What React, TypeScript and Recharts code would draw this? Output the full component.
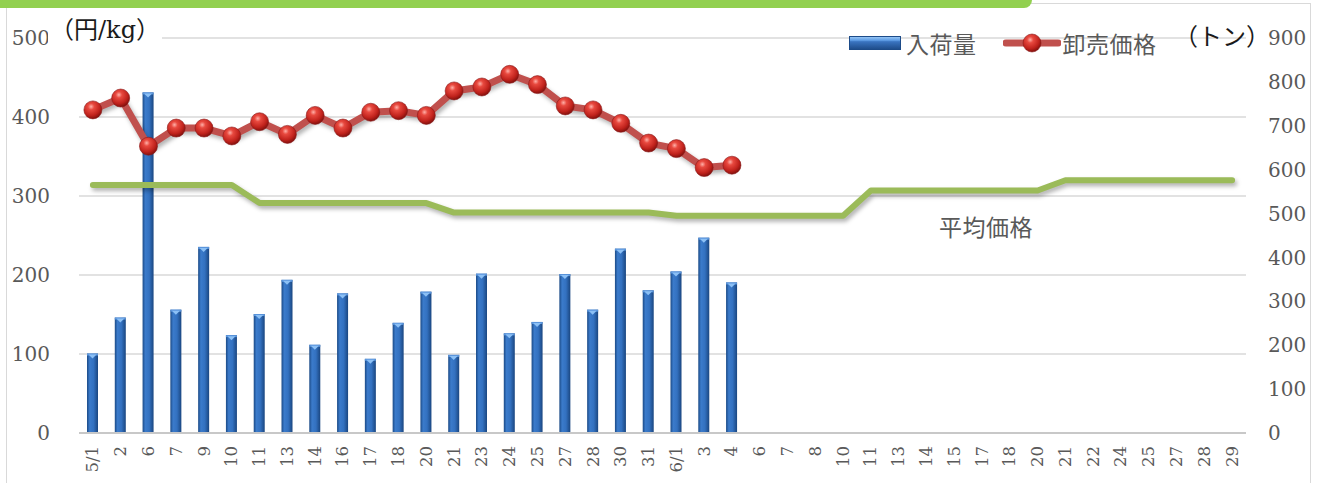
import React from "react";
import { ComposedChart, Bar, Line, XAxis, YAxis, CartesianGrid } from "recharts";

const categories = [
  "5/1", "2", "6", "7", "9", "10", "11", "13", "14", "16", "17", "18", "20", "21",
  "23", "24", "25", "27", "28", "30", "31", "6/1", "3", "4", "6", "7", "8", "10",
  "11", "13", "14", "15", "17", "18", "20", "21", "22", "24", "25", "27", "28", "29",
];
// 入荷量 (トン)
const arrivals = [
  181, 263, 776, 281, 424, 223, 271, 349, 201, 318, 169, 251, 322, 178, 363, 227,
  253, 362, 281, 420, 325, 368, 445, 343,
];
// 卸売価格 (円/kg)
const prices = [
  409, 424, 363, 386, 386, 376, 394, 378, 402, 386, 406, 408, 402, 433, 438, 454,
  441, 414, 409, 392, 367, 360, 336, 339,
];
// 平均価格 (円/kg)
const avgPrices = [
  314, 314, 314, 314, 314, 314,
  291, 291, 291, 291, 291, 291, 291,
  279, 279, 279, 279, 279, 279, 279, 279,
  275, 275, 275, 275, 275, 275, 275,
  307, 307, 307, 307, 307, 307, 307,
  320, 320, 320, 320, 320, 320, 320,
];
const leftTicks = [0, 100, 200, 300, 400, 500];
const rightTicks = [0, 100, 200, 300, 400, 500, 600, 700, 800, 900];

const data = categories.map((label, i) => ({
  label,
  arrivals: i < arrivals.length ? arrivals[i] : null,
  price: i < prices.length ? prices[i] : null,
  avg: avgPrices[i],
}));

const GREY = "#595959";
const SERIF = "'DejaVu Serif', 'Noto Sans CJK JP', serif";
const JP = "'Noto Sans CJK JP', sans-serif";

const XTick = (props: any) => {
  const { x, y, payload } = props;
  return (
    <text
      x={x}
      y={y}
      transform={`rotate(-90 ${x} ${y})`}
      textAnchor="end"
      dominantBaseline="central"
      fill={GREY}
      fontSize={16.5}
      fontFamily={SERIF}
    >
      {payload.value}
    </text>
  );
};

const BarShape = (props: any) => {
  const { x, y, width, height } = props;
  if (!height || height <= 0) return <g />;
  const cx = x + width / 2;
  return (
    <g>
      <rect x={x} y={y} width={width} height={height} fill="url(#barFill)" />
      <rect x={x} y={y} width={width} height={2} fill="#5a95dc" />
      <polygon points={`${x + 1.5},${y + 1} ${x + width - 1.5},${y + 1} ${cx},${y + 5}`} fill="#8cc0f5" />
    </g>
  );
};

const Ball = (props: any) => {
  const { cx, cy, index } = props;
  if (cx == null || cy == null || props.value == null) return <g key={`d${index}`} />;
  return <circle key={`d${index}`} cx={cx} cy={cy} r={9} fill="url(#ball)" stroke="#8a1a1a" strokeWidth={0.6} />;
};

export default function App() {
  return (
    <div style={{ position: "absolute", left: 0, top: 0, width: 1327, height: 483, background: "#fff", overflow: "hidden" }}>
      <style>{`
        .avg-line path.recharts-curve { filter: drop-shadow(2px 3px 2px rgba(0,0,0,0.3)); }
        .price-line path.recharts-curve { filter: drop-shadow(2px 3px 2px rgba(0,0,0,0.3)); }
      `}</style>
      {/* frame */}
      <div style={{ position: "absolute", left: 6, top: 3, width: 1305, height: 500, border: "1.5px solid #d9d9d9", boxSizing: "border-box" }} />
      <div style={{ position: "absolute", left: 0, top: 0, width: 1032, height: 8, background: "#92d050", borderBottomRightRadius: 8 }} />
      <ComposedChart
        width={1327}
        height={483}
        data={data}
        margin={{ top: 38, right: 0, bottom: 0, left: 0 }}
        style={{ position: "absolute", left: 0, top: 0 }}
      >
        <defs>
          <linearGradient id="barFill" x1="0" y1="0" x2="1" y2="0">
            <stop offset="0" stopColor="#1b4a86" />
            <stop offset="0.25" stopColor="#3b7bcb" />
            <stop offset="0.6" stopColor="#3371c0" />
            <stop offset="1" stopColor="#1a4680" />
          </linearGradient>
          <radialGradient id="ball" cx="0.4" cy="0.32" r="0.7">
            <stop offset="0" stopColor="#ffb0a8" />
            <stop offset="0.25" stopColor="#e8493f" />
            <stop offset="0.7" stopColor="#c0221c" />
            <stop offset="1" stopColor="#7e0f0c" />
          </radialGradient>
        </defs>
        <CartesianGrid yAxisId="left" vertical={false} stroke="#d9d9d9" strokeWidth={1.5} />
        <XAxis
          dataKey="label"
          interval={0}
          height={50}
          tickSize={0}
          tickMargin={13}
          tick={<XTick />}
          axisLine={{ stroke: "#c8c8c8", strokeWidth: 2 }}
          tickLine={false}
        />
        <YAxis
          yAxisId="left"
          orientation="left"
          width={79}
          domain={[0, 500]}
          ticks={leftTicks}
          axisLine={false}
          tickLine={false}
          tickSize={0}
          tickMargin={29}
          tick={{ fill: GREY, fontSize: 20, fontFamily: SERIF }}
        />
        <YAxis
          yAxisId="right"
          orientation="right"
          width={81}
          domain={[0, 900]}
          ticks={rightTicks}
          axisLine={false}
          tickLine={false}
          tickSize={0}
          tickMargin={22}
          tick={{ fill: GREY, fontSize: 20, fontFamily: SERIF, textAnchor: "start" }}
        />
        <Line
          className="avg-line"
          yAxisId="left"
          dataKey="avg"
          stroke="#9bbb59"
          strokeWidth={6}
          strokeLinecap="round"
          strokeLinejoin="round"
          dot={false}
          activeDot={false}
          isAnimationActive={false}
          type="linear"
        />
        <Bar yAxisId="right" dataKey="arrivals" barSize={11} shape={<BarShape />} isAnimationActive={false} />
        <Line
          className="price-line"
          yAxisId="left"
          dataKey="price"
          stroke="#c0504d"
          strokeWidth={7}
          strokeLinejoin="round"
          dot={Ball}
          activeDot={false}
          isAnimationActive={false}
          type="linear"
        />
      </ComposedChart>

      {/* axis titles */}
      <div style={{ position: "absolute", left: 48, top: 14, padding: "0 2px", background: "#fff", fontFamily: SERIF, fontSize: 24, color: "#1a1a1a", lineHeight: "32px", whiteSpace: "nowrap" }}>
        （円/kg）
      </div>
      <div style={{ position: "absolute", left: 1174, top: 19, fontFamily: JP, fontSize: 24, color: "#1a1a1a", lineHeight: "32px", whiteSpace: "nowrap" }}>
        （トン）
      </div>

      {/* legend */}
      <div style={{ position: "absolute", left: 849, top: 28, height: 30, display: "flex", alignItems: "center", fontFamily: JP, fontSize: 23, letterSpacing: 0.5, color: GREY, whiteSpace: "nowrap" }}>
        <svg width={52} height={14} style={{ marginRight: 5 }}>
          <defs>
            <linearGradient id="legBar" x1="0" y1="0" x2="0" y2="1">
              <stop offset="0" stopColor="#9ccaf7" />
              <stop offset="0.3" stopColor="#5d9be3" />
              <stop offset="0.4" stopColor="#3a74c0" />
              <stop offset="1" stopColor="#1d4b88" />
            </linearGradient>
          </defs>
          <rect x={0.5} y={0.5} width={51} height={13} fill="url(#legBar)" stroke="#1d4b88" strokeWidth={1} />
        </svg>
        <span>入荷量</span>
        <svg width={58} height={20} style={{ marginLeft: 26, marginRight: 2 }}>
          <line x1={3} y1={10} x2={55} y2={10} stroke="#c0504d" strokeWidth={7} strokeLinecap="round" />
          <circle cx={29} cy={10} r={9} fill="url(#ball)" stroke="#8a1a1a" strokeWidth={0.6} />
        </svg>
        <span>卸売価格</span>
      </div>

      <div style={{ position: "absolute", left: 939, top: 211, fontFamily: JP, fontSize: 23, letterSpacing: 0.5, color: GREY, lineHeight: "30px", whiteSpace: "nowrap" }}>
        平均価格
      </div>
    </div>
  );
}
